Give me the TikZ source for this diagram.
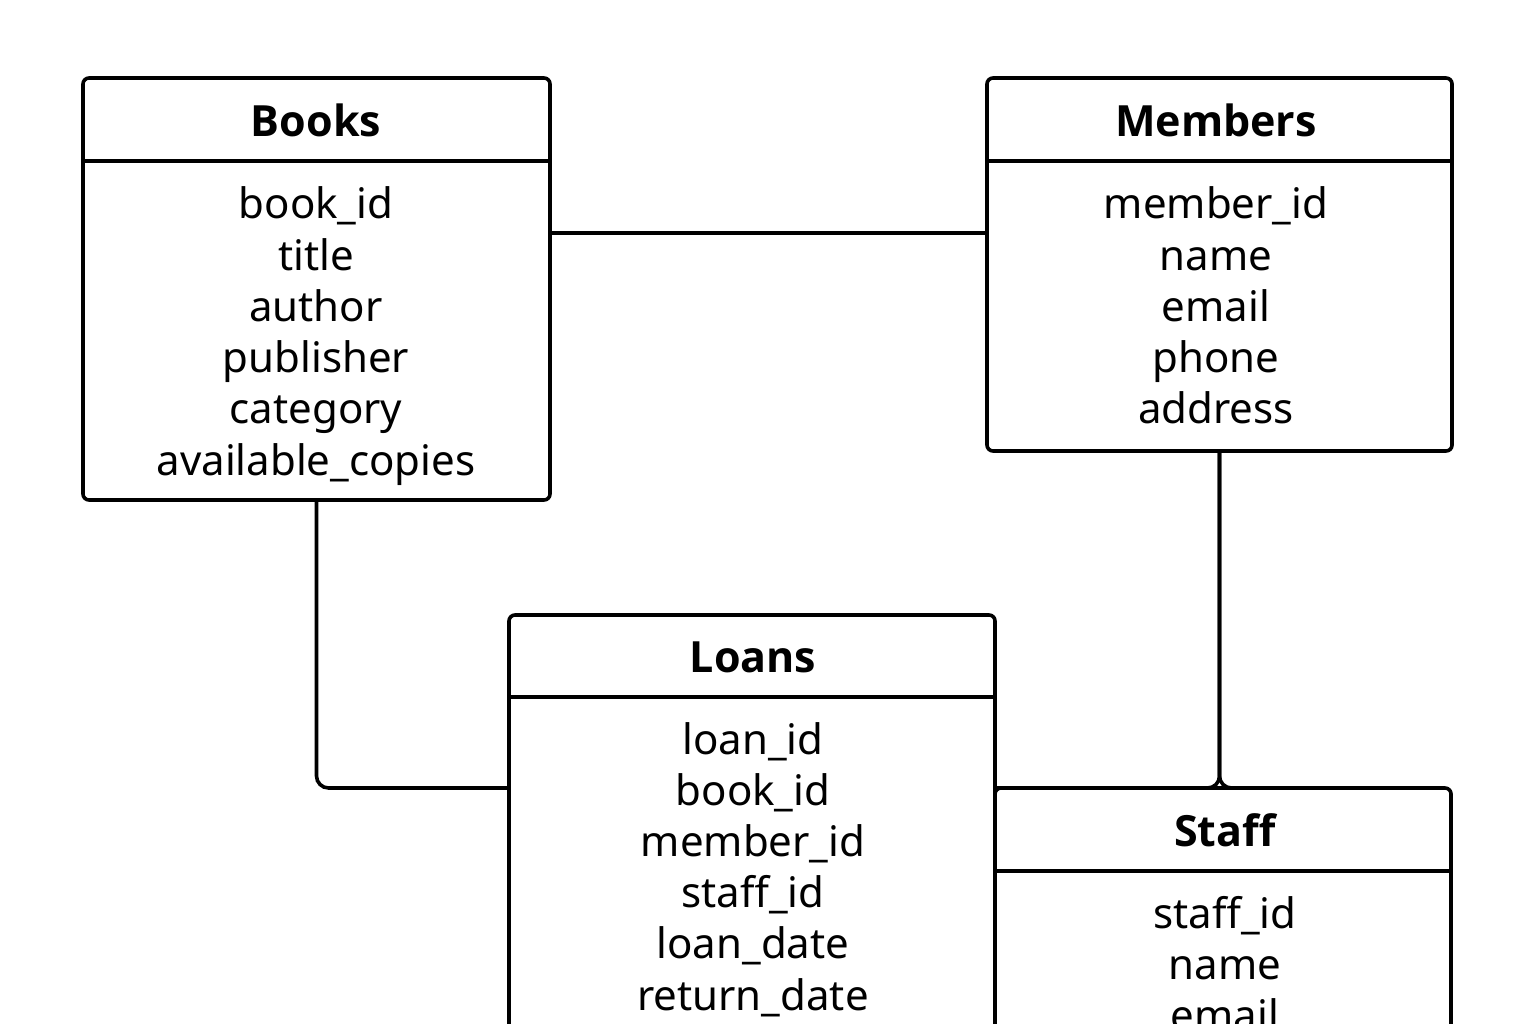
\documentclass[tikz,border=0pt]{standalone}
\usepackage{fontspec}
\setmainfont{Noto Sans}
\newfontfamily\titlefont{Open Sans}
\begin{document}
\begin{tikzpicture}[x=1pt,y=-1pt, line width=3.6pt,
 tbl/.style={draw, rounded corners=6pt, inner sep=0pt, outer sep=0pt, anchor=north west},
 ttl/.style={font=\fontsize{43}{50}\titlefont\bfseries, anchor=base, inner sep=0pt},
 attr/.style={font=\fontsize{42}{51}\selectfont, anchor=base, inner sep=0pt},
 conn/.style={line width=3.6pt, rounded corners=12pt}]
\useasboundingbox (0,0) rectangle (1536,1024);
\clip (0,0) rectangle (1536,1024);
\fill[white] (0,0) rectangle (1536,1024);

% tables
\node[tbl, minimum width=467pt, minimum height=422pt] (books) at (83,78) {};
\node[tbl, minimum width=465pt, minimum height=373pt] (members) at (987,78) {};
\node[tbl, minimum width=486pt, minimum height=480pt] (loans) at (509,615) {};
\node[tbl, minimum width=456pt, minimum height=300pt] (staff) at (995,788) {};

% header separators
\draw (books.west |- 0,161) -- (books.east |- 0,161);
\draw (members.west |- 0,161) -- (members.east |- 0,161);
\draw (loans.west |- 0,697) -- (loans.east |- 0,697);
\draw (staff.west |- 0,871) -- (staff.east |- 0,871);

% titles
\node[ttl] (booksT) at (316,137) {Books};
\node[ttl] (membersT) at (1216,137) {Members};
\node[ttl] (loansT) at (753,672) {Loans};
\node[ttl] (staffT) at (1225,846) {Staff};

% attributes
\foreach \t [count=\i] in {book\_id,title,author,publisher,category,available\_copies}
  \node[attr] (b\i) at (316,{219+51.2*(\i-1)}) {\t};
\foreach \t [count=\i] in {member\_id,name,email,phone,address}
  \node[attr] (m\i) at (1216,{219+51.2*(\i-1)}) {\t};
\foreach \t [count=\i] in {loan\_id,book\_id,member\_id,staff\_id,loan\_date,return\_date}
  \node[attr] (l\i) at (753,{754+51.2*(\i-1)}) {\t};
\foreach \t [count=\i] in {staff\_id,name,email}
  \node[attr] (s\i) at (1225,{928+51.2*(\i-1)}) {\t};

% connectors
\draw[conn] (books.east |- 0,233) -- (members.west |- 0,233);
\draw[conn] (books.south) |- (loans.west |- 0,788);
\draw[conn] (members.south) |- (staff.north west);
\draw[conn] (members.south) |- (1300,788);
\end{tikzpicture}
\end{document}
